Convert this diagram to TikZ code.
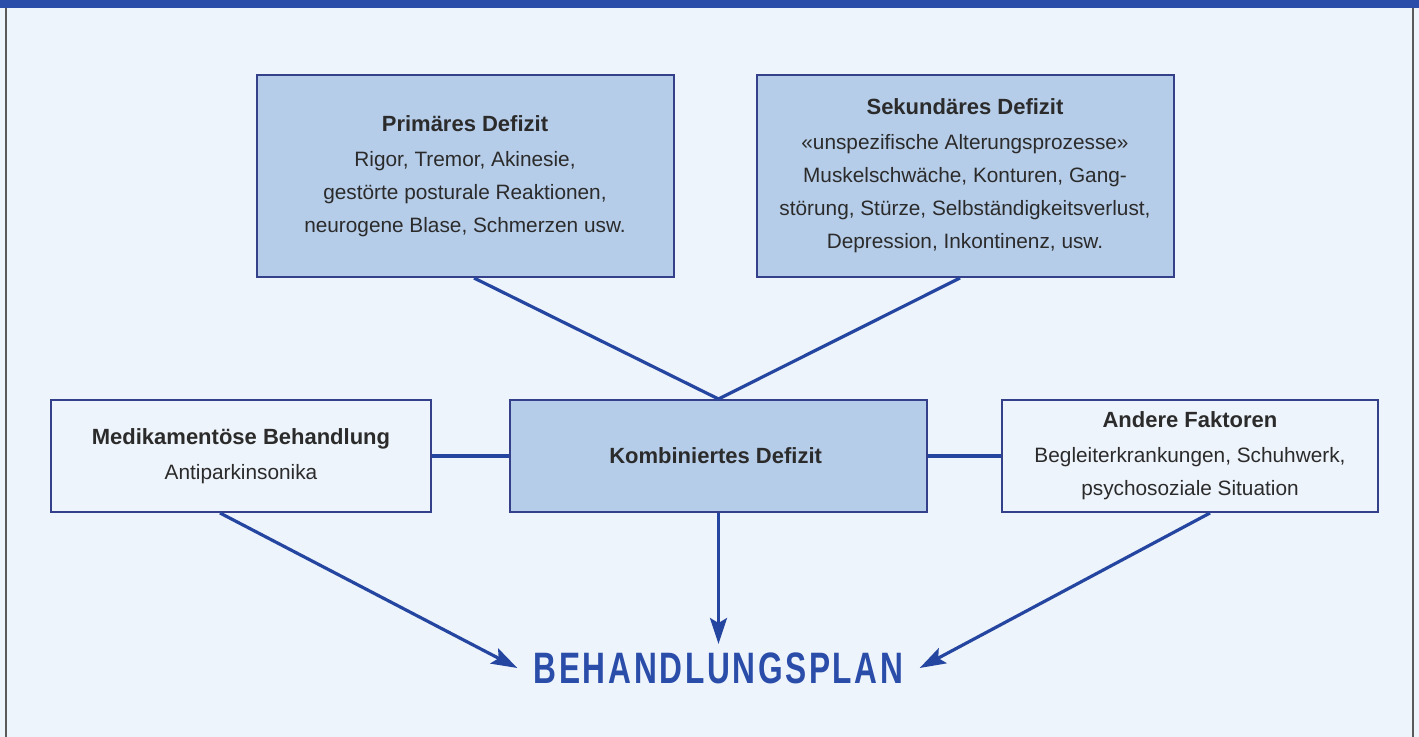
\documentclass[tikz,border=0pt]{standalone}
\usepackage{fontspec}
\setmainfont{Liberation Sans}
\newfontfamily\planfont[FakeStretch=0.72,LetterSpace=6]{Liberation Sans}
\usepackage{xcolor}
\usepackage{tikz}
\usetikzlibrary{positioning}
\usetikzlibrary{arrows.meta, calc}

\definecolor{paper}{HTML}{EEF4FB}
\definecolor{boxfill}{HTML}{B6CDE9}
\definecolor{boxline}{HTML}{34418A}
\definecolor{linkblue}{HTML}{2546A0}
\definecolor{planblue}{HTML}{2A4DAA}
\definecolor{framegray}{HTML}{5A5A5A}
\definecolor{inktext}{HTML}{2B2B2B}

\tikzset{
    defbox/.style={draw=boxline, line width=1pt, fill=#1, text=inktext,
        align=center, inner sep=0pt,
        font=\fontsize{10.4}{16.5}\selectfont},
    defbox/.default=boxfill,
    link/.style={draw=linkblue, line width=1.6pt},
    linkarrow/.style={link, -{Stealth[length=13pt, width=8.5pt, inset=2.5pt]}},
}

\newcommand{\boxhead}[1]{{\fontsize{11}{16.5}\selectfont\bfseries #1}\\[1pt]}

\begin{document}
\begin{tikzpicture}[x=0.5pt, y=-0.5pt]
        % page and frame
        \fill[paper] (0,0) rectangle (1419,737);
        \useasboundingbox (0,0) rectangle (1419,737);
        \fill[planblue] (0,0) rectangle (1419,8);
        \draw[framegray, line width=1.2pt] (6,8) -- (6,737);
        \draw[framegray, line width=1.2pt] (1413,8) -- (1413,737);

        % upper row
        \node[defbox, minimum width=208.5pt, minimum height=101pt] (prim) at (465,176) {
            \boxhead{Primäres Defizit}
            Rigor, Tremor, Akinesie,\\
            gestörte posturale Reaktionen,\\
            neurogene Blase, Schmerzen usw.
        };
        \node[defbox, minimum width=208.5pt, minimum height=101pt] (sek) at (965,176) {
            \boxhead{Sekundäres Defizit}
            «unspezifische Alterungsprozesse»\\
            Muskelschwäche, Konturen, Gang-\\
            störung, Stürze, Selbständigkeitsverlust,\\
            Depression, Inkontinenz, usw.
        };

        % middle row
        \node[defbox=paper, minimum width=190pt, minimum height=56pt] (med) at (241,456) {
            \boxhead{Medikamentöse Behandlung}
            Antiparkinsonika
        };
        \node[defbox, minimum width=208.5pt, minimum height=56pt] (komb) at (718.5,456) {
            {\fontsize{11}{16.5}\selectfont\bfseries Kombiniertes Defizit}
        };
        \node[defbox=paper, minimum width=188pt, minimum height=56pt] (andere) at (1190,456) {
            \boxhead{Andere Faktoren}
            Begleiterkrankungen, Schuhwerk,\\
            psychosoziale Situation
        };

        % result
        \node[text=planblue, inner xsep=8pt, inner ysep=4pt,
            font=\planfont\fontsize{22}{22}\selectfont\bfseries] (plan) at (718.5,668) {BEHANDLUNGSPLAN};

        % connectors
        \draw[link] ([xshift=4.5pt]prim.south) -- (komb.north);
        \draw[link] ([xshift=-2.5pt]sek.south) -- (komb.north);
        \draw[link] (med.east) -- (komb.west);
        \draw[link] (komb.east) -- (andere.west);
        \draw[linkarrow] ([xshift=-10.5pt]med.south) -- (plan.west);
        \draw[linkarrow] (komb.south) -- (plan.north);
        \draw[linkarrow] ([xshift=10pt]andere.south) -- (plan.east);
    \end{tikzpicture}
\end{document}
